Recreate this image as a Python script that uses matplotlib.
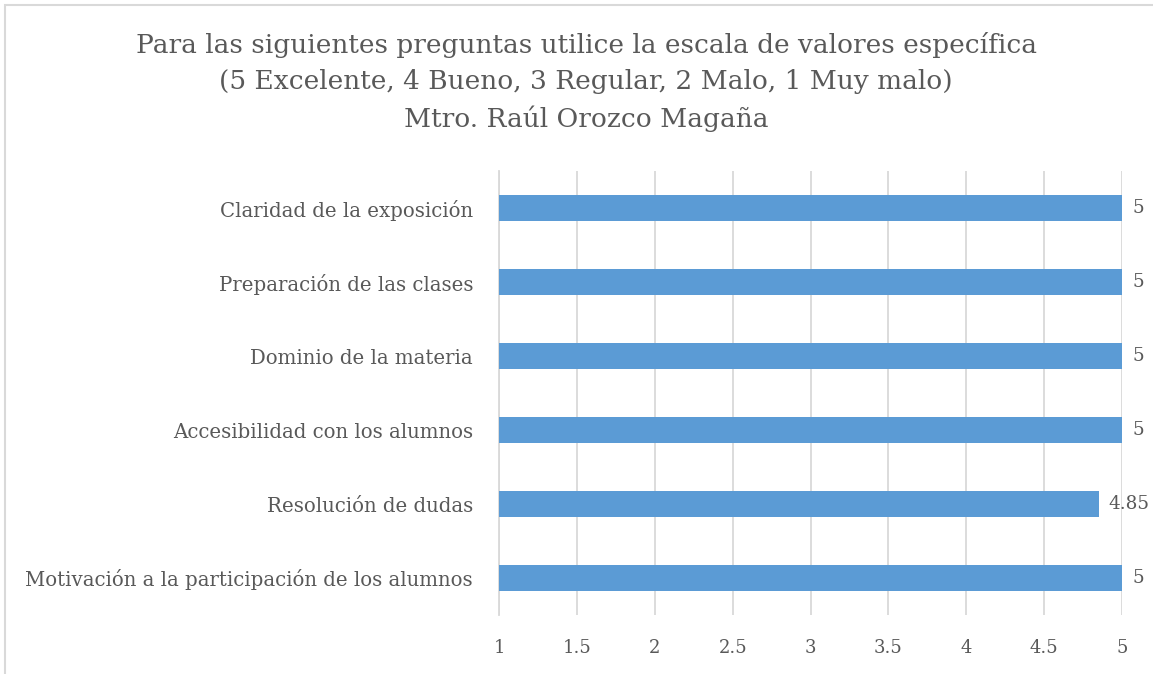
import matplotlib.pyplot as plt
from matplotlib.patches import Rectangle

categories = [
    "Motivación a la participación de los alumnos",
    "Resolución de dudas",
    "Accesibilidad con los alumnos",
    "Dominio de la materia",
    "Preparación de las clases",
    "Claridad de la exposición",
]
values = [5, 4.85, 5, 5, 5, 5]
xticks = [1, 1.5, 2, 2.5, 3, 3.5, 4, 4.5, 5]
title = ("Para las siguientes preguntas utilice la escala de valores específica\n"
         "(5 Excelente, 4 Bueno, 3 Regular, 2 Malo, 1 Muy malo)\n"
         "Mtro. Raúl Orozco Magaña")

plt.rcParams['font.family'] = ['DejaVu Serif']
text_color = '#595959'
bar_color = '#5B9BD5'
grid_color = '#D9D9D9'

W, H = 1153, 674
fig = plt.figure(figsize=(W / 100, H / 100), dpi=100)

# chart area border (only left/top visible in the crop)
fig.patches.append(Rectangle((5 / W, -0.1), 1.2, (H - 5) / H + 0.1,
                             transform=fig.transFigure, fill=False,
                             edgecolor='#D9D9D9', linewidth=1.5))

ax = fig.add_axes([499 / W, 1 - 615 / H, (1122 - 499) / W, (615 - 171) / H])

ypos = range(len(categories))
ax.barh(ypos, [v - 1 for v in values], left=1, height=0.36, color=bar_color, zorder=3)
ax.set_xlim(1, 5)
ax.set_ylim(-0.5, len(categories) - 0.5)
ax.set_xticks(xticks)
ax.set_xticklabels([f"{t:g}" for t in xticks])
ax.set_yticks(list(ypos))
ax.set_yticklabels(categories)

for y, v in zip(ypos, values):
    ax.annotate(f"{v:g}", (v, y), xytext=(10, 0), textcoords='offset pixels',
                ha='left', va='center', fontsize=13.2, color=text_color)

ax.grid(axis='x', color=grid_color, linewidth=1.3, zorder=0)
for side in ['top', 'right', 'bottom']:
    ax.spines[side].set_visible(False)
ax.spines['left'].set_color(grid_color)
ax.spines['left'].set_linewidth(1.3)
ax.tick_params(axis='both', length=0, colors=text_color)
ax.tick_params(axis='x', pad=17, labelsize=13)
ax.tick_params(axis='y', pad=18.7, labelsize=14.2)

fig.text(586 / W, 1 - 82 / H, title, ha='center', va='center',
         fontsize=19, color=text_color, linespacing=1.55)

fig.savefig('out.png', dpi=100)
